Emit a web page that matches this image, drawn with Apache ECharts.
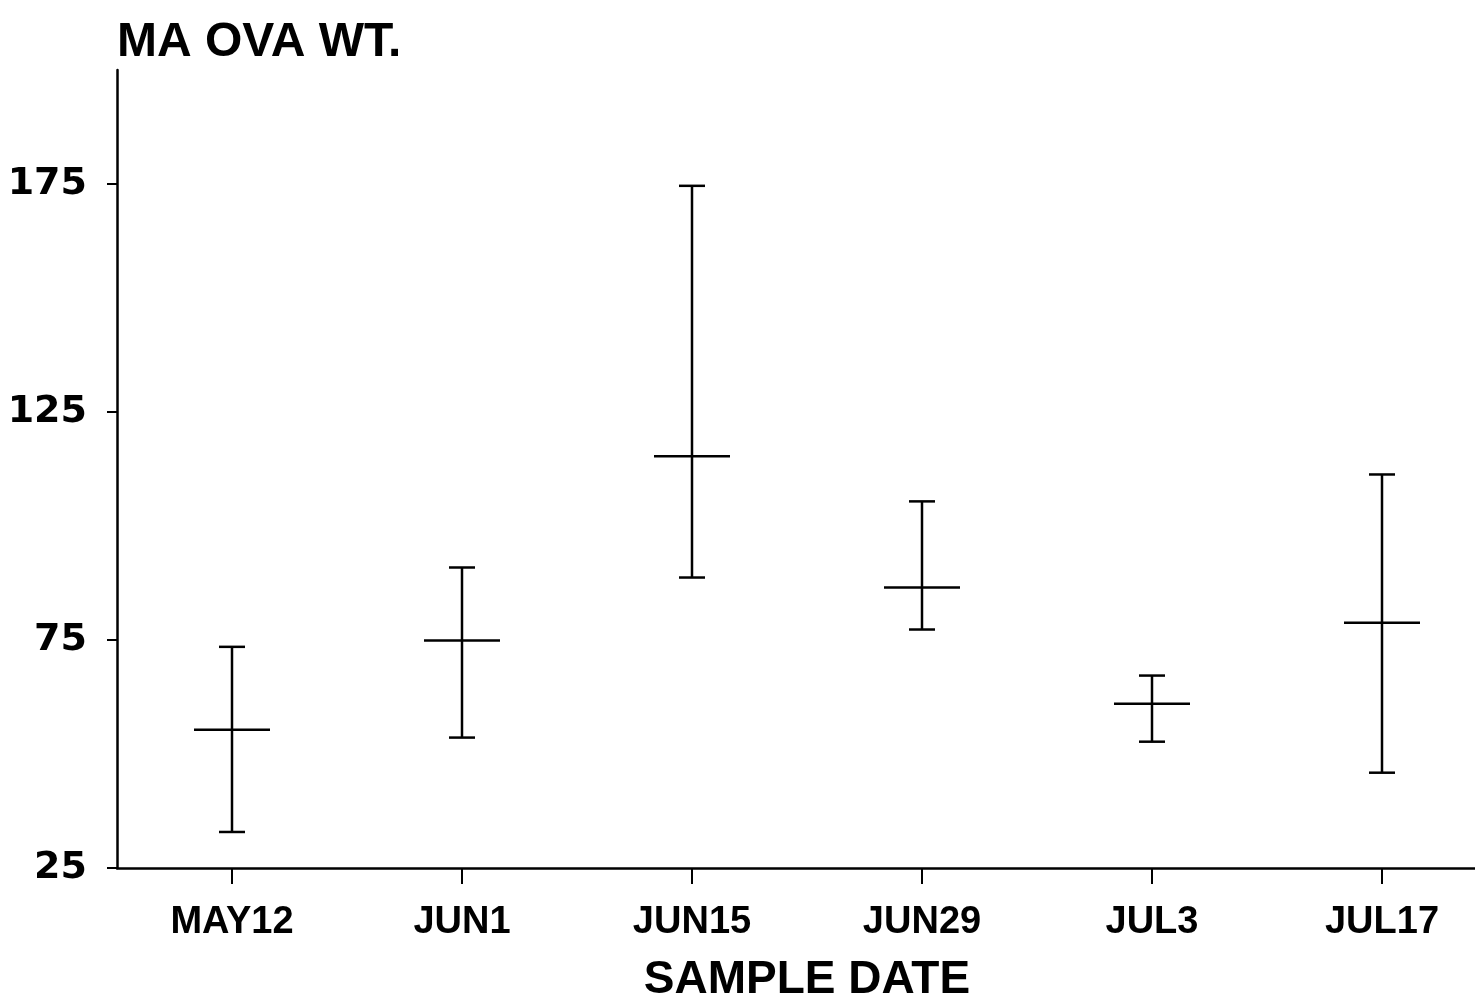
<!DOCTYPE html>
<html>
<head>
<meta charset="utf-8">
<style>
  html, body { margin: 0; padding: 0; background: #fff; }
  #chart { width: 1475px; height: 999px; }
</style>
<script src="https://cdn.jsdelivr.net/npm/echarts@6/dist/echarts.min.js"></script>
</head>
<body>
<div id="chart"></div>
<script>
// Data
var categories = ['MAY12', 'JUN1', 'JUN15', 'JUN29', 'JUL3', 'JUL17'];
var lowValues  = [32.9, 53.6, 88.7, 77.3, 52.7, 45.9];
var meanValues = [55.3, 74.9, 115.3, 86.5, 61.0, 78.8];
var highValues = [73.5, 90.9, 174.6, 105.4, 67.2, 111.3];
var yTicks = [25, 75, 125, 175];

var FONT = '"Liberation Sans", Arial, Helvetica, sans-serif';
var FONT_Y = '"DejaVu Sans", "Liberation Sans", sans-serif';

var seriesData = categories.map(function (c, i) {
  return [i, lowValues[i], meanValues[i], highValues[i]];
});

function renderItem(params, api) {
  var x = api.value(0);
  var lo = api.coord([x, api.value(1)]);
  var mid = api.coord([x, api.value(2)]);
  var hi = api.coord([x, api.value(3)]);
  var capHalf = 13;
  var midHalf = 38;
  var style = { stroke: '#000', lineWidth: 2.5, fill: null };
  return {
    type: 'group',
    children: [
      { type: 'line', shape: { x1: hi[0], y1: hi[1], x2: lo[0], y2: lo[1] }, style: style },
      { type: 'line', shape: { x1: hi[0] - capHalf, y1: hi[1], x2: hi[0] + capHalf, y2: hi[1] }, style: style },
      { type: 'line', shape: { x1: lo[0] - capHalf, y1: lo[1], x2: lo[0] + capHalf, y2: lo[1] }, style: style },
      { type: 'line', shape: { x1: mid[0] - midHalf, y1: mid[1], x2: mid[0] + midHalf, y2: mid[1] }, style: style }
    ]
  };
}

var chart = echarts.init(document.getElementById('chart'), null, { renderer: 'canvas' });
chart.setOption({
  animation: false,
  backgroundColor: '#fff',
  title: {
    text: 'MA OVA WT.',
    left: 117,
    top: 19,
    padding: 0,
    textStyle: { fontFamily: FONT, fontSize: 48, fontWeight: 'bold', color: '#000' }
  },
  grid: { left: 117, width: 1380, top: 70, bottom: 131, containLabel: false, outerBoundsMode: 'none' },
  xAxis: {
    type: 'category',
    data: categories,
    boundaryGap: true,
    name: 'SAMPLE DATE',
    nameLocation: 'middle',
    nameGap: 89,
    nameTextStyle: { fontFamily: FONT, fontSize: 46, fontWeight: 'bold', color: '#000' },
    axisLine: { show: true, onZero: false, lineStyle: { color: '#000', width: 2.5 } },
    axisTick: { show: true, alignWithLabel: true, length: 16, lineStyle: { color: '#000', width: 2 } },
    axisLabel: { fontFamily: FONT, fontSize: 38, fontWeight: 'bold', color: '#000', margin: 36 },
    splitLine: { show: false }
  },
  yAxis: {
    type: 'value',
    min: 25,
    max: 200,
    interval: 50,
    axisLine: { show: true, lineStyle: { color: '#000', width: 2.5 } },
    axisTick: { show: true, length: 10, lineStyle: { color: '#000', width: 2 } },
    axisLabel: {
      fontFamily: FONT_Y, fontSize: 38, fontWeight: 'bold', color: '#000', margin: 30,
      showMaxLabel: false,
      formatter: function (v) { return yTicks.indexOf(v) >= 0 ? String(v) : ''; }
    },
    splitLine: { show: false }
  },
  series: [{
    type: 'custom',
    renderItem: renderItem,
    data: seriesData,
    encode: { x: 0, y: [1, 2, 3] },
    clip: false
  }]
});
</script>
</body>
</html>
